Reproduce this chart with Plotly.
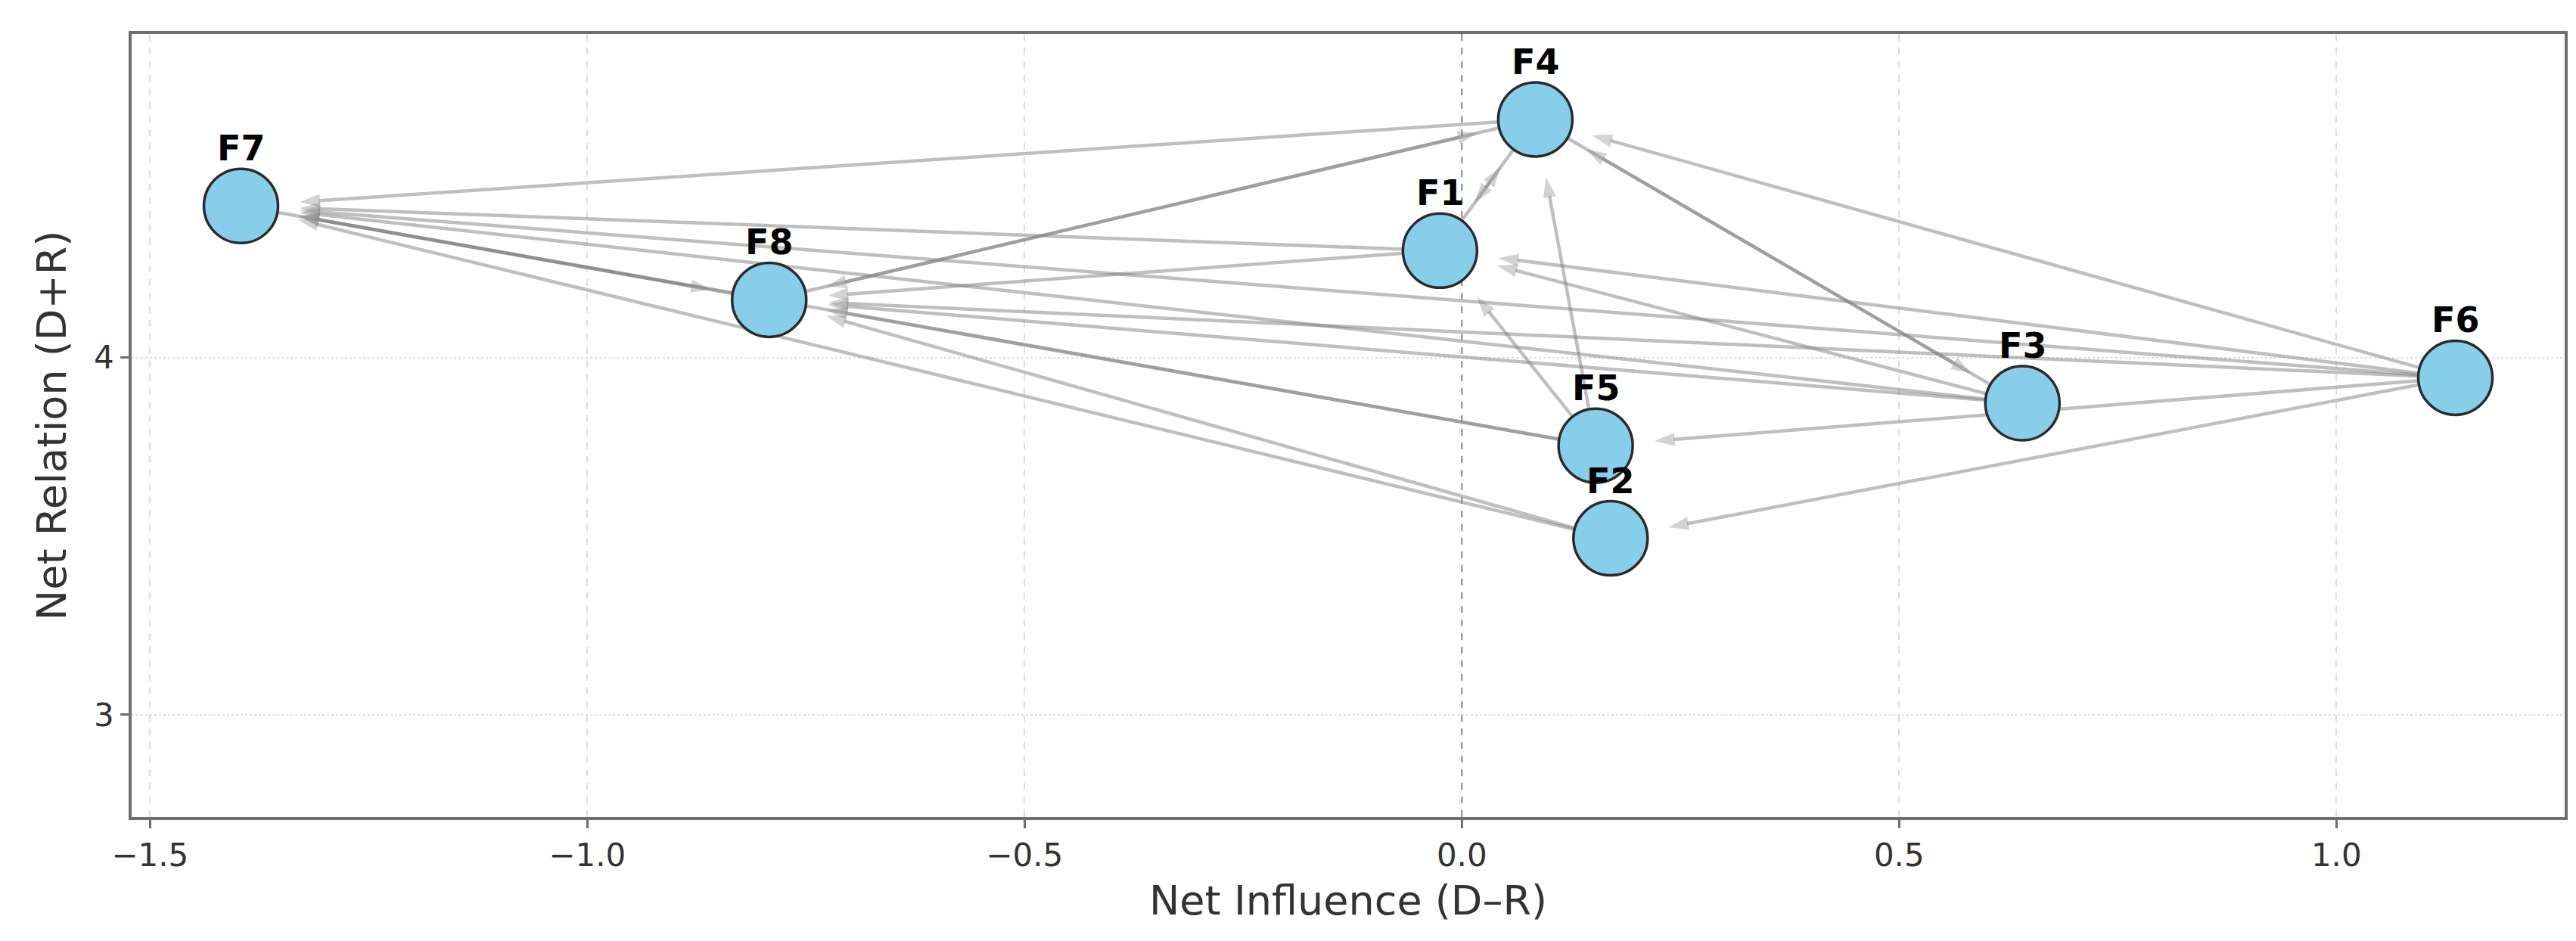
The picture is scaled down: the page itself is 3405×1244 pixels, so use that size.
import plotly.graph_objects as go

# Factores y coordenadas DEMATEL
factors = ["F1", "F2", "F3", "F4", "F5", "F6", "F7", "F8"]
net_influence = [-0.025, 0.170, 0.641, 0.084, 0.153, 1.136, -1.396, -0.792]  # D-R
net_relation = [4.299, 3.494, 3.872, 4.666, 3.753, 3.943, 4.424, 4.161]  # D+R

# Relaciones de influencia (origen -> destino)
edge_from = ["F4", "F4", "F8", "F1", "F4", "F1", "F1", "F2", "F2", "F3", "F3", "F4", "F3",
             "F3", "F5", "F5", "F5", "F5", "F6", "F6", "F6", "F6", "F6", "F6", "F7", "F8"]
edge_to = ["F7", "F8", "F4", "F4", "F1", "F7", "F8", "F7", "F8", "F1", "F4", "F3", "F7",
           "F8", "F1", "F4", "F7", "F8", "F1", "F2", "F4", "F5", "F7", "F8", "F8", "F7"]

x_ticks = [-1.5, -1.0, -0.5, 0.0, 0.5, 1.0]
y_ticks = [3, 4]
x_range = [-1.521, 1.261]
y_range = [2.714, 4.905]
zero_x = 0.0

pos = {f: (x, y) for f, x, y in zip(factors, net_influence, net_relation)}

edge_color = "rgba(128,128,128,0.5)"
font_family = "DejaVu Sans"

fig = go.Figure()

# Aristas con punta de flecha
for src, dst in zip(edge_from, edge_to):
    x0, y0 = pos[src]
    x1, y1 = pos[dst]
    fig.add_trace(go.Scatter(
        x=[x0, x1], y=[y0, y1],
        mode="lines+markers",
        line=dict(color=edge_color, width=4.5),
        marker=dict(symbol=["circle", "arrow"], size=[0, 28], angleref="previous",
                    standoff=[0, 78], color=edge_color, line=dict(width=0)),
        hoverinfo="skip",
        showlegend=False,
    ))

# Nodos
fig.add_trace(go.Scatter(
    x=net_influence, y=net_relation,
    mode="markers",
    marker=dict(size=98, color="#87CEEB", line=dict(color="#2b2b2b", width=3.5)),
    text=factors,
    hoverinfo="text",
    showlegend=False,
))

# Etiquetas de los nodos
for f, x, y in zip(factors, net_influence, net_relation):
    fig.add_annotation(x=x, y=y, text="<b>" + f + "</b>", showarrow=False, yshift=76,
                       font=dict(family=font_family, size=46, color="black"))

# Línea vertical en D-R = 0
fig.add_shape(type="line", xref="x", yref="paper", x0=zero_x, x1=zero_x, y0=0, y1=1,
              line=dict(color="rgba(60,60,60,0.8)", width=2, dash="dash"), layer="below")

axis_common = dict(
    showline=True, mirror=True, linecolor="#6e6e6e", linewidth=3.5,
    ticks="outside", ticklen=11, tickwidth=2.5, tickcolor="#6e6e6e",
    tickfont=dict(family=font_family, size=42, color="#333333"),
    zeroline=False, gridcolor="rgba(190,190,190,0.5)", gridwidth=2,
)

fig.update_layout(
    width=3405, height=1244,
    margin=dict(l=166, r=23, t=37, b=172),
    paper_bgcolor="white", plot_bgcolor="white",
    xaxis=dict(range=x_range, tickvals=x_ticks, tickformat=".1f", griddash="dash",
               title=dict(text="Net Influence (D\u2013R)", standoff=18,
                          font=dict(family=font_family, size=54, color="#333333")),
               **axis_common),
    yaxis=dict(range=y_range, tickvals=y_ticks, griddash="dot",
               title=dict(text="Net Relation (D+R)", standoff=20,
                          font=dict(family=font_family, size=54, color="#333333")),
               **axis_common),
)

fig.write_html("out.html")
